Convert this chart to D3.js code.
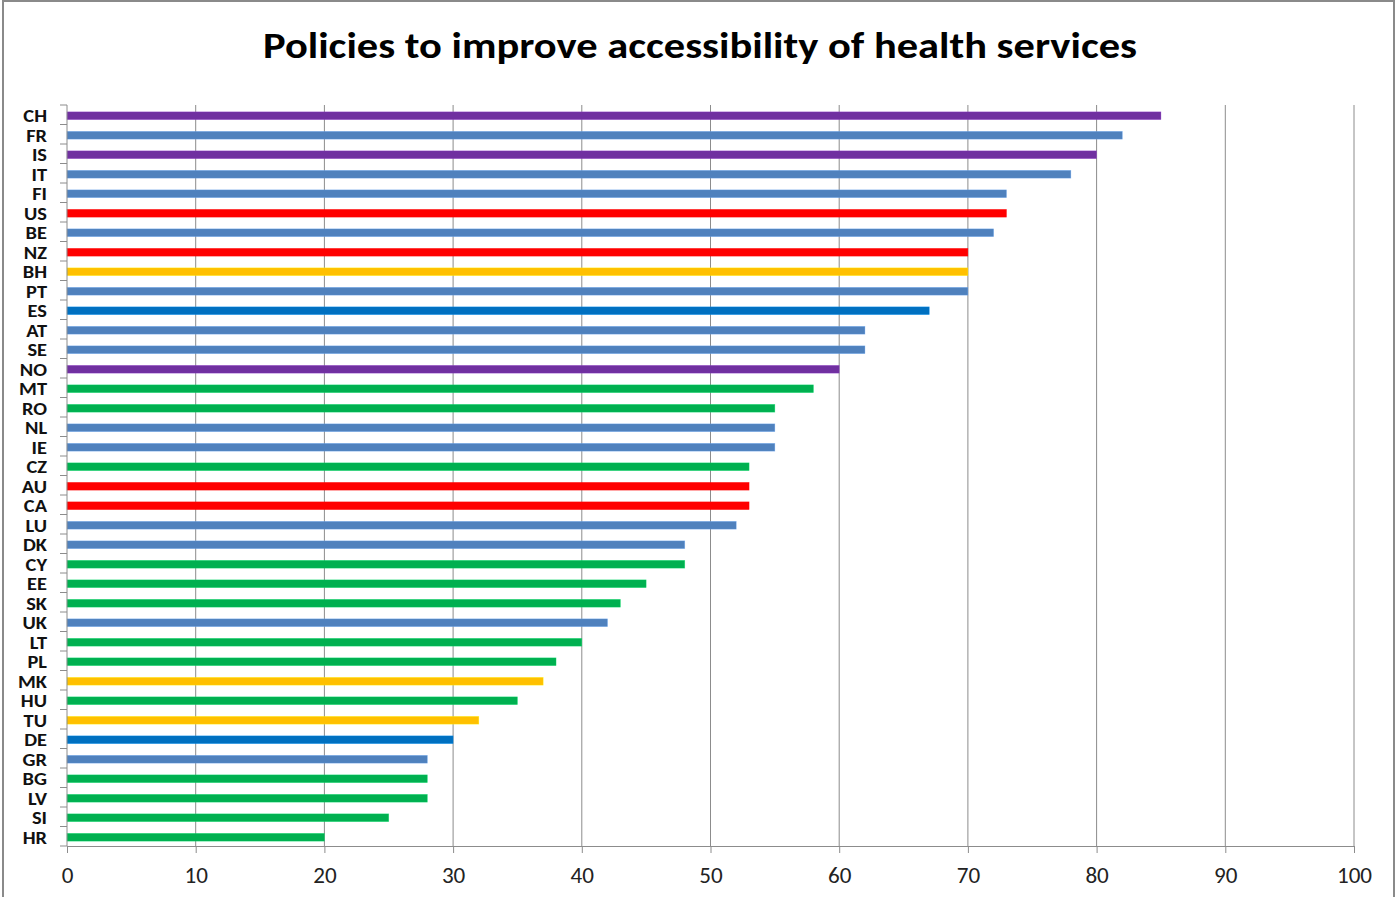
<!DOCTYPE html>
<html>
<head>
<meta charset="utf-8">
<script src="https://cdn.jsdelivr.net/npm/d3@7"></script>
<style>
  html, body { margin: 0; padding: 0; background: #fff; }
  svg { display: block; }
  text { font-family: Carlito, Calibri, Lato, "Open Sans", sans-serif; }
</style>
</head>
<body>
<svg id="chart" width="1397" height="897"></svg>
<script>
// Country codes, top to bottom
const countries = ["CH","FR","IS","IT","FI","US","BE","NZ","BH","PT","ES","AT","SE","NO","MT","RO","NL","IE","CZ","AU","CA","LU","DK","CY","EE","SK","UK","LT","PL","MK","HU","TU","DE","GR","BG","LV","SI","HR"];
// Score per country
const scores = [85,82,80,78,73,73,72,70,70,70,67,62,62,60,58,55,55,55,53,53,53,52,48,48,45,43,42,40,38,37,35,32,30,28,28,28,25,20];
// Colour group per country
const groups = ["purple","blue","purple","blue","blue","red","blue","red","yellow","blue","darkblue","blue","blue","purple","green","green","blue","blue","green","red","red","blue","blue","green","green","green","blue","green","green","yellow","green","yellow","darkblue","blue","green","green","green","green"];
const groupNames = ["purple","blue","red","yellow","darkblue","green"];
const groupColors = ["#7030A0","#4F81BD","#FF0000","#FFC000","#0070C0","#00B050"];
const xTicks = [0,10,20,30,40,50,60,70,80,90,100];

const svg = d3.select("#chart");
const W = 1397, H = 897;
const stretch = 1.2; // wide lettering

// chart frame
svg.append("rect").attr("x", 3).attr("y", 1).attr("width", 1391).attr("height", H + 5)
  .attr("fill", "#fff").attr("stroke", "#8a8a8a").attr("stroke-width", 2);

const plotLeft = 67, plotRight = 1354, plotTop = 105, plotBottom = 846;

const x = d3.scaleLinear().domain([0, 100]).range([plotLeft, plotRight]);
const y = d3.scaleBand().domain(countries).range([plotTop, plotBottom]).paddingInner(0.6).paddingOuter(0.3);
const color = d3.scaleOrdinal().domain(groupNames).range(groupColors);

// vertical gridlines
svg.append("g").selectAll("line").data(xTicks.slice(1)).join("line")
  .attr("x1", d => x(d)).attr("x2", d => x(d))
  .attr("y1", plotTop).attr("y2", plotBottom)
  .attr("stroke", "#8c8c8c").attr("stroke-width", 1);

// bars
const data = countries.map((c, i) => ({ c, v: scores[i], g: groups[i] }));
svg.append("g").selectAll("rect").data(data).join("rect")
  .attr("x", x(0))
  .attr("y", d => y(d.c) + 1)
  .attr("width", d => x(d.v) - x(0))
  .attr("height", y.bandwidth())
  .attr("fill", d => color(d.g))
  .attr("stroke", d => d3.color(color(d.g)).brighter(0.8))
  .attr("stroke-opacity", 0.5)
  .attr("stroke-width", 0.6);

// x axis
const xAxis = d3.axisBottom(x).tickValues(xTicks).tickSize(7).tickSizeOuter(0).tickPadding(14);
const gx = svg.append("g").attr("transform", `translate(0,${plotBottom})`).call(xAxis);
gx.select(".domain").attr("stroke", "#8c8c8c");
gx.selectAll(".tick line").attr("stroke", "#8c8c8c");
gx.selectAll(".tick text").attr("font-size", 22).attr("fill", "#222")
  .attr("font-family", "Carlito, Calibri, Lato, sans-serif")
  .attr("transform", `scale(1.05,1)`);

// y axis: labels centred on bands, ticks on band boundaries
const yAxis = d3.axisLeft(y).tickSize(0).tickPadding(20);
const gy = svg.append("g").attr("transform", `translate(${plotLeft},0)`).call(yAxis);
gy.select(".domain").attr("stroke", "#8c8c8c").attr("d", `M0,${plotTop}V${plotBottom}`);
gy.selectAll(".tick text").attr("font-size", 17).attr("font-weight", "bold").attr("fill", "#111")
  .attr("font-family", "Carlito, Calibri, Lato, sans-serif")
  .attr("x", -20 / stretch)
  .attr("y", 2)
  .attr("transform", `scale(${stretch},1)`);
const bounds = d3.range(countries.length + 1).map(i => plotTop + i * (plotBottom - plotTop) / countries.length);
svg.append("g").selectAll("line").data(bounds).join("line")
  .attr("x1", plotLeft - 7).attr("x2", plotLeft)
  .attr("y1", d => d).attr("y2", d => d)
  .attr("stroke", "#8c8c8c");

// title
svg.append("text").attr("x", 700).attr("y", 58).attr("text-anchor", "middle")
  .attr("font-size", 36).attr("font-weight", "bold").attr("fill", "#000")
  .attr("textLength", 874).attr("lengthAdjust", "spacingAndGlyphs")
  .text("Policies to improve accessibility of health services");
</script>
</body>
</html>
